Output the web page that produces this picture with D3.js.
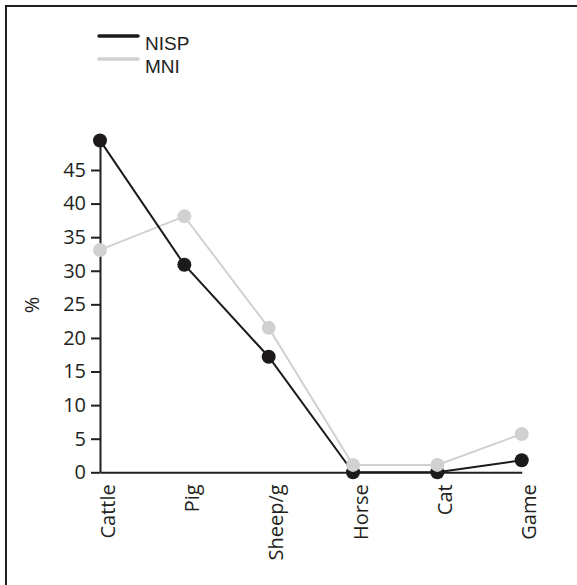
<!DOCTYPE html>
<html>
<head>
<meta charset="utf-8">
<script src="https://cdn.jsdelivr.net/npm/d3@7"></script>
<style>
  html, body { margin: 0; padding: 0; background: #fff; }
  svg { display: block; }
  text { font-family: "Open Sans", sans-serif; fill: #231f20; }
</style>
</head>
<body>
<svg id="chart" width="577" height="585"></svg>
<script>
const categories = ["Cattle", "Pig", "Sheep/g", "Horse", "Cat", "Game"];
const nispValues = [49.4, 30.9, 17.2, 0.0, 0.0, 1.8];
const mniValues = [33.1, 38.1, 21.5, 1.1, 1.1, 5.7];
const yTicks = [0, 5, 10, 15, 20, 25, 30, 35, 40, 45];
const seriesNames = ["NISP", "MNI"];
const seriesColors = ["#1c1a1b", "#d1d1d1"];

const svg = d3.select("#chart");
const ink = "#231f20";
const FONT = "'Open Sans', sans-serif";
const FS = 20;

// frame
svg.append("rect")
  .attr("x", 6).attr("y", 6)
  .attr("width", 600).attr("height", 600)
  .attr("fill", "none").attr("stroke", ink).attr("stroke-width", 2);

const x = d3.scalePoint().domain(categories).range([100, 521.7]);
const y = d3.scaleLinear().domain([0, 50]).range([472.3, 136.4]);

// y axis
const yAxis = svg.append("g")
  .attr("transform", "translate(100,0)")
  .call(d3.axisLeft(y).tickValues(yTicks).tickSize(9).tickSizeOuter(0).tickPadding(5));
yAxis.select(".domain").attr("stroke", ink).attr("stroke-width", 2);
yAxis.selectAll(".tick line").attr("stroke", ink).attr("stroke-width", 2);
yAxis.selectAll(".tick text")
  .attr("font-size", FS).attr("fill", ink)
  .style("font-family", FONT);

// x axis
const xAxis = svg.append("g")
  .attr("transform", `translate(0,${y(0)})`)
  .call(d3.axisBottom(x).tickSize(0).tickSizeOuter(0).tickPadding(0));
xAxis.select(".domain").attr("stroke", ink).attr("stroke-width", 2);
xAxis.selectAll(".tick text")
  .attr("font-size", FS).attr("fill", ink)
  .style("font-family", FONT)
  .attr("text-anchor", "end")
  .attr("transform", "translate(7,12) rotate(-90)")
  .attr("x", 0).attr("y", 0).attr("dy", "0.35em");

// y label
svg.append("text")
  .attr("transform", "translate(32,305) rotate(-90)")
  .attr("text-anchor", "middle").attr("dy", "0.35em")
  .attr("font-size", FS).text("%");

const line = d3.line().x((d, i) => x(categories[i])).y(d => y(d));

// MNI line, NISP line
svg.append("path").datum(mniValues).attr("d", line)
  .attr("fill", "none").attr("stroke", seriesColors[1]).attr("stroke-width", 2);
svg.append("path").datum(nispValues).attr("d", line)
  .attr("fill", "none").attr("stroke", seriesColors[0]).attr("stroke-width", 2);

svg.append("g").selectAll("circle").data(nispValues).join("circle")
  .attr("cx", (d, i) => x(categories[i])).attr("cy", d => y(d))
  .attr("r", 7).attr("fill", seriesColors[0]);
svg.append("g").selectAll("circle").data(mniValues).join("circle")
  .attr("cx", (d, i) => x(categories[i])).attr("cy", d => y(d))
  .attr("r", 7).attr("fill", seriesColors[1]);

// legend
const legend = svg.append("g");
seriesNames.forEach((name, i) => {
  const ly = 36 + i * 23;
  legend.append("line")
    .attr("x1", 99).attr("x2", 138).attr("y1", ly).attr("y2", ly)
    .attr("stroke", seriesColors[i]).attr("stroke-width", 3.5).attr("stroke-linecap", "round");
  legend.append("text")
    .attr("x", 145).attr("y", ly + 13.5)
    .style("font-family", "'Liberation Sans', Arial, sans-serif")
    .attr("font-size", 19).text(name);
});
</script>
</body>
</html>
